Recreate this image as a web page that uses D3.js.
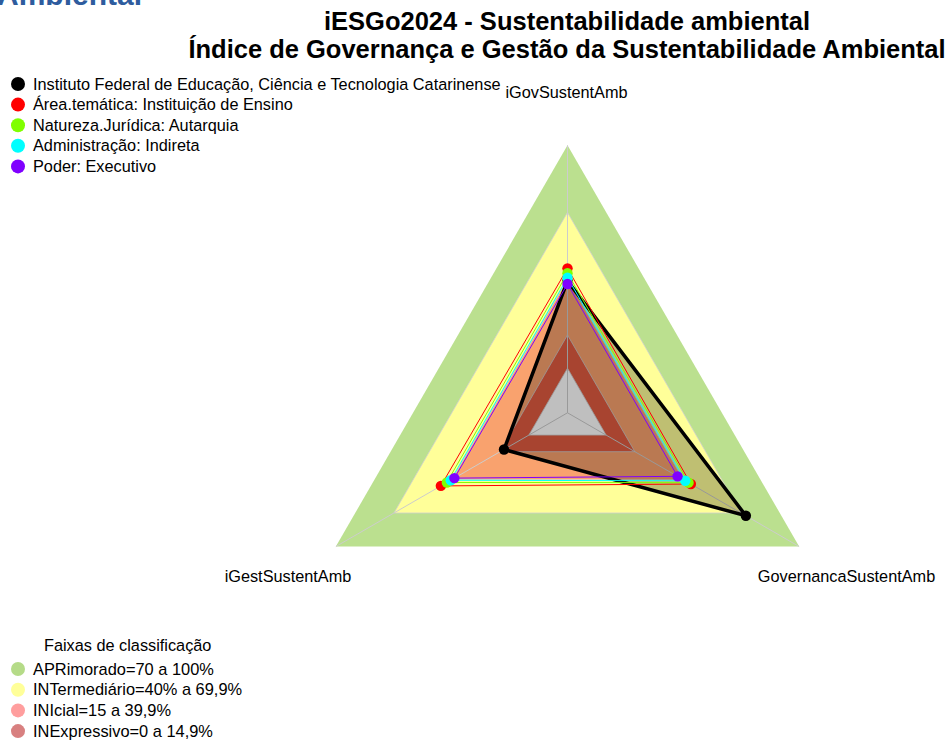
<!DOCTYPE html>
<html>
<head>
<meta charset="utf-8">
<script src="https://cdn.jsdelivr.net/npm/d3@7"></script>
<style>
  html, body { margin: 0; padding: 0; background: #ffffff; }
  svg { display: block; }
  text { font-family: "Liberation Sans", Arial, sans-serif; }
</style>
</head>
<body>
<svg id="chart" width="948" height="740"></svg>
<script>
// Radar axes
const axes = ["iGovSustentAmb", "iGestSustentAmb", "GovernancaSustentAmb"];

// Series (share of the maximum, 0..1), one value per axis
const seriesNames = [
  "Instituto Federal de Educação, Ciência e Tecnologia Catarinense",
  "Área.temática: Instituição de Ensino",
  "Natureza.Jurídica: Autarquia",
  "Administração: Indireta",
  "Poder: Executivo"
];
const valInstituto = [0.392, 0.129, 0.724];
const valAreaTematica = [0.448, 0.456, 0.439];
const valNatureza = [0.426, 0.425, 0.427];
const valAdministracao = [0.406, 0.405, 0.410];
const valPoder = [0.378, 0.386, 0.370];
const seriesValues = [valInstituto, valAreaTematica, valNatureza, valAdministracao, valPoder];
const seriesColors = ["#000000", "#FF0000", "#80FF00", "#00FFFF", "#8000FF"];

// Classification bands (upper limit of each band)
const bandLabels = [
  "APRimorado=70 a 100%",
  "INTermediário=40% a 69,9%",
  "INIcial=15 a 39,9%",
  "INExpressivo=0 a 14,9%"
];
const bandLimits = [1.0, 0.699, 0.399, 0.149];
const bandFill = ["#BBE08F", "#FFFF99", "#F9A26E", "#E05B40"];
const bandLegendFill = ["#B5DB88", "#FFFF99", "#FF9E9E", "#D88080"];

const svg = d3.select("#chart");
const cx = 567.5, cy = 412.8, R = 267.5;

// fmsb-style radial scale: the centre keeps a gap of one segment out of six
const rScale = d3.scaleLinear().domain([0, 1]).range([R / 6, R]);
const angle = i => -i * 2 * Math.PI / axes.length;

const radial = d3.lineRadial()
  .angle((d, i) => angle(i))
  .radius(d => rScale(d))
  .curve(d3.curveLinearClosed);

const pt = (v, i) => {
  const r = rScale(v), a = angle(i);
  return [r * Math.sin(a), -r * Math.cos(a)];
};

const plot = svg.append("g").attr("transform", `translate(${cx},${cy})`);

// bands, outermost first
plot.selectAll("path.band")
  .data(bandLimits)
  .join("path")
  .attr("class", "band")
  .attr("d", v => radial(axes.map(() => v)))
  .attr("fill", (v, i) => bandFill[i])
  .attr("stroke", (v, i) => i === 0 ? "none" : "#cfcfcf")
  .attr("stroke-width", 0.8);

// empty centre
plot.append("path")
  .attr("d", radial(axes.map(() => 0)))
  .attr("fill", "#ffffff")
  .attr("stroke", "#cfcfcf")
  .attr("stroke-width", 0.8);

// axis spokes
plot.selectAll("line.spoke")
  .data(axes)
  .join("line")
  .attr("class", "spoke")
  .attr("x1", 0).attr("y1", 0)
  .attr("x2", (d, i) => pt(1, i)[0])
  .attr("y2", (d, i) => pt(1, i)[1])
  .attr("stroke", "#cccccc")
  .attr("stroke-width", 1);

// series polygons and points
seriesValues.forEach((vals, s) => {
  const g = plot.append("g");
  g.append("path")
    .attr("d", radial(vals))
    .attr("fill", s === 0 ? "rgba(0,0,0,0.25)" : "none")
    .attr("stroke", seriesColors[s])
    .attr("stroke-width", s === 0 ? 3.5 : 1)
    .attr("stroke-linejoin", "miter");
  g.selectAll("circle")
    .data(vals)
    .join("circle")
    .attr("cx", (v, i) => pt(v, i)[0])
    .attr("cy", (v, i) => pt(v, i)[1])
    .attr("r", 5.2)
    .attr("fill", seriesColors[s]);
});

// axis labels
const axisLabelPos = [[566.5, 98], [288, 582], [846.5, 582]];
svg.selectAll("text.axis")
  .data(axes)
  .join("text")
  .attr("class", "axis")
  .attr("x", (d, i) => axisLabelPos[i][0])
  .attr("y", (d, i) => axisLabelPos[i][1])
  .attr("text-anchor", "middle")
  .attr("font-size", 16.3)
  .attr("fill", "#000")
  .text(d => d);

// title
svg.append("text")
  .attr("x", -3).attr("y", 4.5)
  .attr("font-size", 30).attr("font-weight", "bold")
  .attr("fill", "#2E5C9E")
  .text("Ambiental");
svg.append("text")
  .attr("x", 567).attr("y", 30)
  .attr("text-anchor", "middle")
  .attr("font-size", 25.5).attr("font-weight", "bold")
  .text("iESGo2024 - Sustentabilidade ambiental");
svg.append("text")
  .attr("x", 567).attr("y", 58)
  .attr("text-anchor", "middle")
  .attr("font-size", 25.5).attr("font-weight", "bold")
  .text("Índice de Governança e Gestão da Sustentabilidade Ambiental");

// series legend
const leg = svg.append("g");
seriesNames.forEach((name, i) => {
  const y = 84 + i * 20.6;
  leg.append("circle").attr("cx", 18).attr("cy", y).attr("r", 7).attr("fill", seriesColors[i]);
  leg.append("text").attr("x", 33).attr("y", y + 5.5).attr("font-size", 16.3).text(name);
});

// band legend
const bleg = svg.append("g");
bleg.append("text").attr("x", 44).attr("y", 650.5).attr("font-size", 16.3).text("Faixas de classificação");
bandLabels.forEach((name, i) => {
  const y = 669 + i * 20.7;
  bleg.append("circle").attr("cx", 18).attr("cy", y).attr("r", 7).attr("fill", bandLegendFill[i]);
  bleg.append("text").attr("x", 33).attr("y", y + 5.5).attr("font-size", 16.4).text(name);
});
</script>
</body>
</html>
